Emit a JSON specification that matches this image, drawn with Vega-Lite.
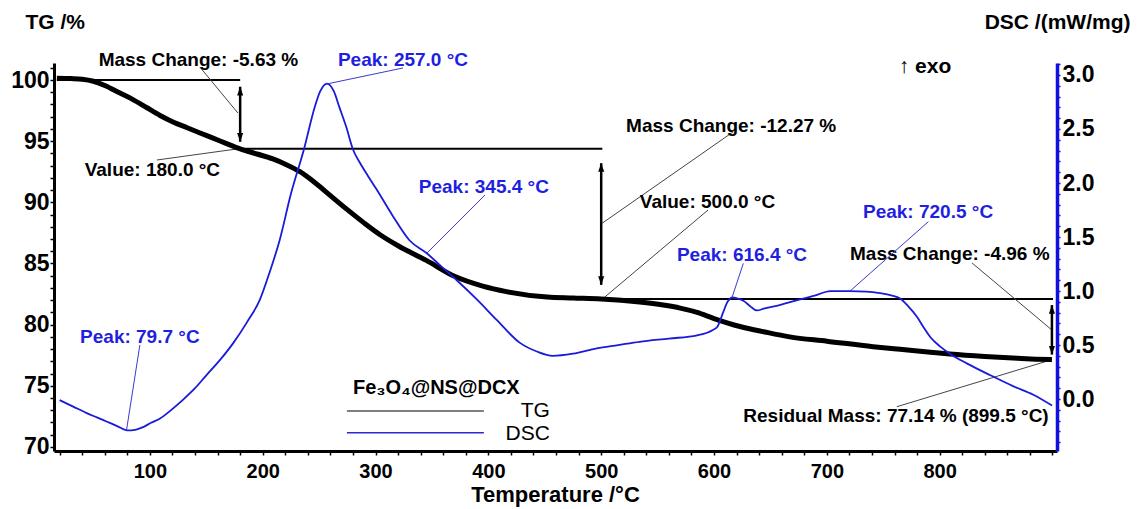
{
  "$schema": "https://vega.github.io/schema/vega-lite/v6.json",
  "width": 1003,
  "height": 388,
  "autosize": {"type": "none"},
  "padding": {"left": 54, "top": 63, "right": 83, "bottom": 58},
  "background": "white",
  "config": {
    "font": "Liberation Sans",
    "view": {"stroke": null},
    "axis": {"grid": false, "labelFontWeight": "bold", "labelColor": "black", "titleColor": "black", "labelFlush": false, "labelOverlap": false, "labelBound": false}
  },
  "datasets": {
    "tg": [
      {"t": 17.5, "tg": 100.15}, {"t": 30, "tg": 100.12}, {"t": 40, "tg": 100.07}, {"t": 50, "tg": 99.9},
      {"t": 60, "tg": 99.55}, {"t": 73, "tg": 98.95}, {"t": 85, "tg": 98.4}, {"t": 97, "tg": 97.75},
      {"t": 109, "tg": 97.1}, {"t": 121, "tg": 96.55}, {"t": 133, "tg": 96.1}, {"t": 145, "tg": 95.65},
      {"t": 156, "tg": 95.25}, {"t": 168, "tg": 94.8}, {"t": 180, "tg": 94.37}, {"t": 195, "tg": 93.95},
      {"t": 209, "tg": 93.55}, {"t": 221, "tg": 93.08}, {"t": 233, "tg": 92.5}, {"t": 245, "tg": 91.7},
      {"t": 260, "tg": 90.55}, {"t": 275, "tg": 89.4}, {"t": 290, "tg": 88.3}, {"t": 304, "tg": 87.35},
      {"t": 320, "tg": 86.45}, {"t": 345, "tg": 85.25}, {"t": 370, "tg": 83.95}, {"t": 395, "tg": 83.15},
      {"t": 416, "tg": 82.7}, {"t": 452, "tg": 82.26}, {"t": 475, "tg": 82.18}, {"t": 500, "tg": 82.1},
      {"t": 534, "tg": 81.85}, {"t": 555, "tg": 81.6}, {"t": 570, "tg": 81.35}, {"t": 585, "tg": 81.0},
      {"t": 600, "tg": 80.5}, {"t": 623, "tg": 79.85}, {"t": 645, "tg": 79.4}, {"t": 667, "tg": 79.0},
      {"t": 700, "tg": 78.65}, {"t": 741, "tg": 78.2}, {"t": 765, "tg": 77.98}, {"t": 794, "tg": 77.72},
      {"t": 809, "tg": 77.6}, {"t": 840, "tg": 77.4}, {"t": 869, "tg": 77.25}, {"t": 885, "tg": 77.18},
      {"t": 899.5, "tg": 77.14}
    ],
    "dsc": [
      {"t": 20, "d": -0.01}, {"t": 32, "d": -0.07}, {"t": 44, "d": -0.13}, {"t": 53, "d": -0.17},
      {"t": 62, "d": -0.21}, {"t": 71, "d": -0.25}, {"t": 79.7, "d": -0.29}, {"t": 87, "d": -0.285},
      {"t": 94, "d": -0.26}, {"t": 101, "d": -0.22}, {"t": 109, "d": -0.18}, {"t": 119, "d": -0.1},
      {"t": 129, "d": -0.01}, {"t": 140, "d": 0.1}, {"t": 150, "d": 0.22}, {"t": 162, "d": 0.36},
      {"t": 174, "d": 0.52}, {"t": 186, "d": 0.71}, {"t": 197.5, "d": 0.92}, {"t": 206, "d": 1.17},
      {"t": 215, "d": 1.47}, {"t": 225, "d": 1.9}, {"t": 236.5, "d": 2.31}, {"t": 246, "d": 2.7},
      {"t": 251, "d": 2.85}, {"t": 257, "d": 2.92}, {"t": 263, "d": 2.85}, {"t": 268, "d": 2.7},
      {"t": 274, "d": 2.52}, {"t": 280, "d": 2.31}, {"t": 286, "d": 2.19}, {"t": 293, "d": 2.07},
      {"t": 301, "d": 1.94}, {"t": 315, "d": 1.7}, {"t": 330, "d": 1.47}, {"t": 345.4, "d": 1.35},
      {"t": 358, "d": 1.23}, {"t": 372, "d": 1.1}, {"t": 390, "d": 0.92}, {"t": 407.6, "d": 0.73},
      {"t": 428, "d": 0.52}, {"t": 443, "d": 0.44}, {"t": 457, "d": 0.4}, {"t": 475, "d": 0.42},
      {"t": 496, "d": 0.47}, {"t": 515, "d": 0.5}, {"t": 534, "d": 0.53}, {"t": 560, "d": 0.56},
      {"t": 585, "d": 0.59}, {"t": 599, "d": 0.64}, {"t": 603, "d": 0.67}, {"t": 608, "d": 0.8},
      {"t": 612, "d": 0.9}, {"t": 616.4, "d": 0.94}, {"t": 621, "d": 0.93}, {"t": 626, "d": 0.91},
      {"t": 632, "d": 0.86}, {"t": 638, "d": 0.82}, {"t": 645, "d": 0.84}, {"t": 658, "d": 0.87},
      {"t": 679, "d": 0.93}, {"t": 690, "d": 0.96}, {"t": 703, "d": 1.0}, {"t": 720.5, "d": 1.0},
      {"t": 735, "d": 0.995}, {"t": 747, "d": 0.98}, {"t": 757, "d": 0.96}, {"t": 765, "d": 0.93},
      {"t": 772, "d": 0.86}, {"t": 780, "d": 0.76}, {"t": 786, "d": 0.66}, {"t": 792, "d": 0.57},
      {"t": 800, "d": 0.49}, {"t": 809, "d": 0.42}, {"t": 824, "d": 0.33}, {"t": 845, "d": 0.22},
      {"t": 865, "d": 0.12}, {"t": 883, "d": 0.04}, {"t": 899.6, "d": -0.06}
    ],
    "hrules": [
      {"t": 17.6, "t2": 180, "tg": 100.0},
      {"t": 180, "t2": 501, "tg": 94.37},
      {"t": 500, "t2": 900.5, "tg": 82.1}
    ],
    "arrows": [
      {"t": 180, "tg": 99.45, "tg2": 94.95},
      {"t": 500, "tg": 93.2, "tg2": 83.25},
      {"t": 899.5, "tg": 81.6, "tg2": 77.55}
    ],
    "heads": [
      {"t": 180, "tg": 99.45, "dir": "up"}, {"t": 180, "tg": 94.95, "dir": "down"},
      {"t": 500, "tg": 93.2, "dir": "up"}, {"t": 500, "tg": 83.25, "dir": "down"},
      {"t": 899.5, "tg": 81.6, "dir": "up"}, {"t": 899.5, "tg": 77.55, "dir": "down"}
    ],
    "leadersBlack": [
      {"t": 144.3, "tg": 101.06, "t2": 178, "tg2": 97.3},
      {"t": 106.2, "tg": 93.46, "t2": 180, "tg2": 94.4},
      {"t": 616.8, "tg": 95.75, "t2": 501, "tg2": 88.3},
      {"t": 594.7, "tg": 89.37, "t2": 500.5, "tg2": 82.05},
      {"t": 828.7, "tg": 85.04, "t2": 899.5, "tg2": 79.56},
      {"t": 762, "tg": 73.29, "t2": 899.5, "tg2": 77.14}
    ],
    "labelsBlack": [
      {"t": 143, "tg": 101.64, "label": "Mass Change: -5.63 %"},
      {"t": 102.2, "tg": 92.64, "label": "Value: 180.0 °C"},
      {"t": 615.2, "tg": 96.24, "label": "Mass Change: -12.27 %"},
      {"t": 594.2, "tg": 90.05, "label": "Value: 500.0 °C"},
      {"t": 809, "tg": 85.77, "label": "Mass Change: -4.96 %"},
      {"t": 761.3, "tg": 72.55, "label": "Residual Mass: 77.14 % (899.5 °C)"}
    ],
    "legendLines": [
      {"t": 274.6, "t2": 396, "tg": 72.94, "series": "TG"},
      {"t": 274.6, "t2": 396, "tg": 71.16, "series": "DSC"}
    ],
    "legendLabels": [
      {"t": 454.5, "tg": 72.94, "label": "TG"},
      {"t": 454.5, "tg": 71.1, "label": "DSC"}
    ],
    "sample": [{"t": 280, "tg": 74.82, "label": "Fe₃O₄@NS@DCX"}],
    "peakLabels": [
      {"t": 324.3, "d": 3.139, "label": "Peak: 257.0 °C"},
      {"t": 396, "d": 1.963, "label": "Peak: 345.4 °C"},
      {"t": 91.1, "d": 0.574, "label": "Peak: 79.7 °C"},
      {"t": 624.8, "d": 1.333, "label": "Peak: 616.4 °C"},
      {"t": 789.7, "d": 1.731, "label": "Peak: 720.5 °C"}
    ],
    "peakLeaders": [
      {"t": 324.3, "d": 3.065, "t2": 256.9, "d2": 2.917},
      {"t": 397, "d": 1.889, "t2": 345.3, "d2": 1.349},
      {"t": 91.1, "d": 0.5, "t2": 79.3, "d2": -0.287},
      {"t": 626, "d": 1.256, "t2": 615.7, "d2": 0.932},
      {"t": 790, "d": 1.642, "t2": 720.6, "d2": 1.0}
    ],
    "exo": [{"t": 787, "d": 3.074, "label": "↑ exo"}]
  },
  "encoding": {
    "x": {
      "field": "t", "type": "quantitative",
      "scale": {"domain": [15, 904], "nice": false, "zero": false},
      "axis": {
        "title": "Temperature /°C", "titleFontSize": 22, "titleFontWeight": "bold",
        "titleX": 501, "titleY": 43, "titleBaseline": "middle",
        "values": [20,40,60,80,100,120,140,160,180,200,220,240,260,280,300,320,340,360,380,400,420,440,460,480,500,520,540,560,580,600,620,640,660,680,700,720,740,760,780,800,820,840,860,880,900],
        "labelExpr": "datum.value % 100 === 0 && datum.value < 900 ? datum.label : ''",
        "labelFontSize": 20, "labelPadding": 6,
        "tickSize": 4, "tickColor": "black", "tickWidth": 1.5,
        "domainColor": "black", "domainWidth": 3
      }
    }
  },
  "layer": [
    {
      "encoding": {
        "y": {
          "field": "tg", "type": "quantitative",
          "scale": {"domain": [69.67, 101.39], "nice": false, "zero": false},
          "axis": {
            "orient": "left", "title": "TG /%", "titleAngle": 0, "titleAlign": "left", "titleBaseline": "middle",
            "titleX": -29, "titleY": -41, "titleFontSize": 21, "titleFontWeight": "bold",
            "values": [70,71,72,73,74,75,76,77,78,79,80,81,82,83,84,85,86,87,88,89,90,91,92,93,94,95,96,97,98,99,100,101],
            "labelExpr": "datum.value % 5 === 0 ? datum.label : ''",
            "labelFontSize": 23, "labelPadding": 1,
            "tickSize": 4, "tickColor": "black", "tickWidth": 1.5,
            "domainColor": "black", "domainWidth": 3
          }
        }
      },
      "layer": [
        {"data": {"name": "hrules"}, "mark": {"type": "rule", "color": "black", "strokeWidth": 2}, "encoding": {"x2": {"field": "t2"}}},
        {"data": {"name": "leadersBlack"}, "mark": {"type": "rule", "color": "#444444", "strokeWidth": 1}, "encoding": {"x2": {"field": "t2"}, "y2": {"field": "tg2"}}},
        {"data": {"name": "tg"}, "mark": {"type": "line", "color": "black", "strokeWidth": 5, "interpolate": "monotone"}},
        {"data": {"name": "arrows"}, "mark": {"type": "rule", "color": "black", "strokeWidth": 2.5}, "encoding": {"y2": {"field": "tg2"}}},
        {"data": {"name": "heads"}, "mark": {"type": "point", "filled": true, "color": "black", "opacity": 1, "size": 300, "strokeWidth": 0},
          "encoding": {"shape": {"field": "dir", "type": "nominal", "scale": {"domain": ["up", "down"], "range": ["M0,0L-0.35,1L0.35,1Z", "M0,0L-0.35,-1L0.35,-1Z"]}, "legend": null}}},
        {"data": {"name": "labelsBlack"}, "mark": {"type": "text", "font": "Liberation Sans", "fontWeight": "bold", "fontSize": 19, "color": "black"}, "encoding": {"text": {"field": "label"}}},
        {"data": {"name": "legendLines"}, "mark": {"type": "rule", "strokeWidth": 1.3},
          "encoding": {"x2": {"field": "t2"}, "color": {"field": "series", "type": "nominal", "scale": {"domain": ["TG", "DSC"], "range": ["#555555", "#2a2ad0"]}, "legend": null}}},
        {"data": {"name": "legendLabels"}, "mark": {"type": "text", "align": "right", "font": "Liberation Sans", "fontSize": 21, "color": "black"}, "encoding": {"text": {"field": "label"}}},
        {"data": {"name": "sample"}, "mark": {"type": "text", "align": "left", "font": "Liberation Sans", "fontWeight": "bold", "fontSize": 20, "color": "black"}, "encoding": {"text": {"field": "label"}}}
      ]
    },
    {
      "encoding": {
        "y": {
          "field": "d", "type": "quantitative",
          "scale": {"domain": [-0.481, 3.111], "nice": false, "zero": false},
          "axis": {
            "orient": "right", "title": "DSC /(mW/mg)", "titleAngle": 0, "titleAlign": "right", "titleBaseline": "middle",
            "titleX": 73, "titleY": -41, "titleFontSize": 21, "titleFontWeight": "bold",
            "values": [-0.4,-0.3,-0.2,-0.1,0,0.1,0.2,0.3,0.4,0.5,0.6,0.7,0.8,0.9,1,1.1,1.2,1.3,1.4,1.5,1.6,1.7,1.8,1.9,2,2.1,2.2,2.3,2.4,2.5,2.6,2.7,2.8,2.9,3,3.1],
            "labelExpr": "abs(datum.value * 2 - round(datum.value * 2)) < 0.001 ? format(datum.value, '.1f') : ''",
            "labelFontSize": 23, "labelPadding": 2,
            "tickSize": 3, "tickColor": "#1010e0", "tickWidth": 1.5,
            "domainColor": "#1010e0", "domainWidth": 3.5
          }
        }
      },
      "layer": [
        {"data": {"name": "dsc"}, "mark": {"type": "line", "color": "#1a1ad8", "strokeWidth": 1.8, "interpolate": "monotone"}},
        {"data": {"name": "peakLeaders"}, "mark": {"type": "rule", "color": "#3a3ad0", "strokeWidth": 1}, "encoding": {"x2": {"field": "t2"}, "y2": {"field": "d2"}}},
        {"data": {"name": "peakLabels"}, "mark": {"type": "text", "font": "Liberation Sans", "fontWeight": "bold", "fontSize": 19, "color": "#1f1fe0"}, "encoding": {"text": {"field": "label"}}},
        {"data": {"name": "exo"}, "mark": {"type": "text", "font": "Liberation Sans", "fontWeight": "bold", "fontSize": 21, "color": "black"}, "encoding": {"text": {"field": "label"}}}
      ]
    }
  ],
  "resolve": {"scale": {"y": "independent"}, "axis": {"y": "independent"}}
}
